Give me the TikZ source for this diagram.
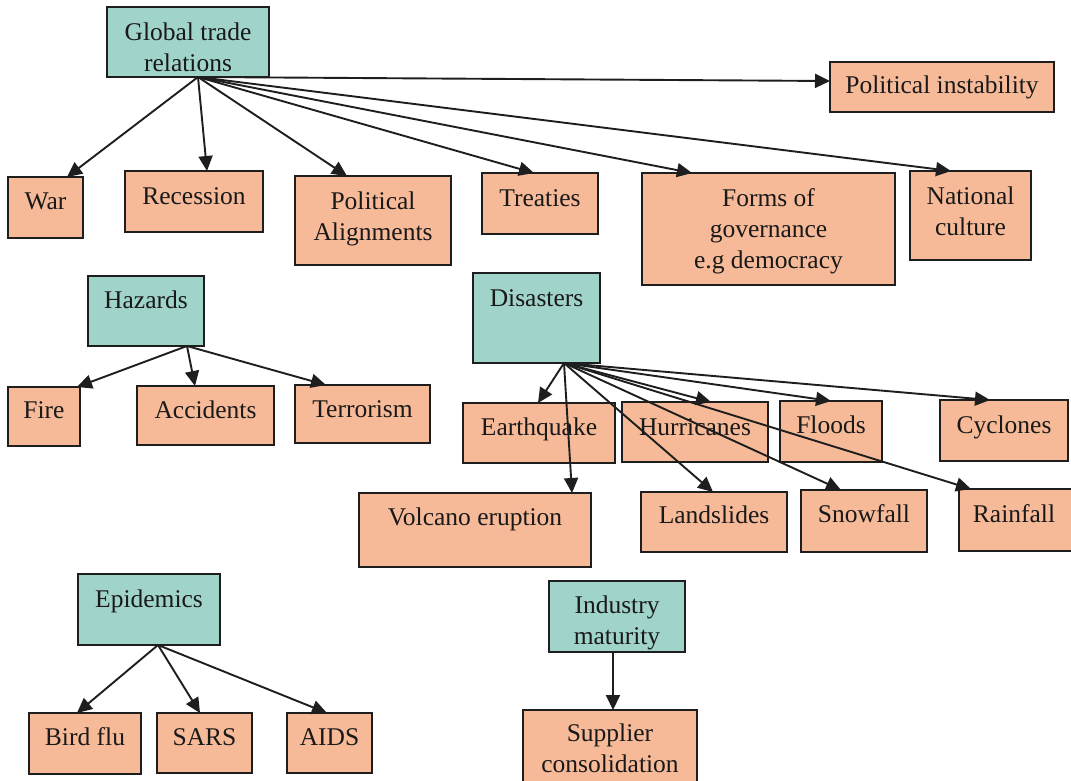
\documentclass[tikz,border=0pt]{standalone}
\usepackage{fontspec}
\setmainfont{Liberation Serif}
\usetikzlibrary{arrows.meta}

\definecolor{tealbox}{RGB}{160,212,202}
\definecolor{salmonbox}{RGB}{247,186,152}
\definecolor{inkline}{RGB}{30,30,30}

\tikzset{
  boxbase/.style={draw=inkline, line width=2pt, inner sep=0pt, outer sep=0pt, rectangle},
  headbox/.style={boxbase, fill=tealbox},
  itembox/.style={boxbase, fill=salmonbox},
  lbl/.style={inner sep=0pt, outer sep=0pt, align=center, anchor=base,
    font=\fontsize{25.5}{31}\selectfont, text=black!90},
  arr/.style={draw=inkline, line width=1.9pt, -{Triangle[length=15pt,width=14pt]}}
}

% \mkbox{name}{x1}{y1}{x2}{y2}{style}
\newcommand\mkbox[6]{%
  \node[#6, minimum width={#4-#2}, minimum height={#5-#3}] (#1) at ({(#2+#4)/2},{(#3+#5)/2}) {};}

\begin{document}
\begin{tikzpicture}[x=1pt, y=-1pt]
\fill[white] (0,0) rectangle (1071,780);
\clip (0,0) rectangle (1071,780);

% ---- Global trade relations ----
\mkbox{gtr}{107}{7}{269}{77}{headbox}
\mkbox{war}{8}{177}{83}{238}{itembox}
\mkbox{rec}{125}{171}{263}{232}{itembox}
\mkbox{pal}{295}{176}{451}{265}{itembox}
\mkbox{tre}{482}{173}{598}{234}{itembox}
\mkbox{pin}{830}{62}{1054}{112}{itembox}
\mkbox{fog}{642}{173}{895}{285}{itembox}
\mkbox{nac}{910}{171}{1031}{260}{itembox}

% ---- Hazards ----
\mkbox{haz}{88}{276}{204}{346}{headbox}
\mkbox{fir}{8}{387}{80}{446}{itembox}
\mkbox{acc}{137}{386}{274}{445}{itembox}
\mkbox{ter}{295}{385}{430}{443}{itembox}

% ---- Disasters ----
\mkbox{dis}{473}{273}{600}{363}{headbox}
\mkbox{eqk}{463}{403}{615}{463}{itembox}
\mkbox{hur}{622}{402}{768}{462}{itembox}
\mkbox{flo}{780}{401}{882}{462}{itembox}
\mkbox{cyc}{940}{400}{1068}{461}{itembox}
\mkbox{vol}{359}{493}{591}{567}{itembox}
\mkbox{lan}{641}{492}{787}{552}{itembox}
\mkbox{sno}{801}{490}{927}{552}{itembox}
\mkbox{rai}{959}{489}{1078}{551}{itembox}

% ---- Epidemics ----
\mkbox{epi}{78}{574}{220}{645}{headbox}
\mkbox{bfl}{29}{713}{141}{774}{itembox}
\mkbox{sar}{157}{713}{252}{773}{itembox}
\mkbox{aid}{287}{713}{372}{773}{itembox}

% ---- Industry maturity ----
\mkbox{ind}{549}{581}{685}{652}{headbox}
\mkbox{sup}{523}{710}{697}{800}{itembox}

% ---- labels (multi-line labels sit on the baseline of their last line) ----
\node[lbl] (gtr-t) at (188,71) {Global trade\\relations};
\node[lbl] (war-t) at (45.5,209) {War};
\node[lbl] (rec-t) at (194,204) {Recession};
\node[lbl] (pal-t) at (373,240) {Political\\Alignments};
\node[lbl] (tre-t) at (540,206) {Treaties};
\node[lbl] (pin-t) at (942,93) {Political instability};
\node[lbl] (fog-t) at (768.5,268) {Forms of\\governance\\e.g democracy};
\node[lbl] (nac-t) at (970.5,235) {National\\culture};

\node[lbl] (haz-t) at (146,308) {Hazards};
\node[lbl] (fir-t) at (44,418) {Fire};
\node[lbl] (acc-t) at (205.5,418) {Accidents};
\node[lbl] (ter-t) at (362.5,417) {Terrorism};

\node[lbl] (dis-t) at (536.5,306) {Disasters};
\node[lbl] (eqk-t) at (539,435) {Earthquake};
\node[lbl] (hur-t) at (695,435) {Hurricanes};
\node[lbl] (flo-t) at (831,433) {Floods};
\node[lbl] (cyc-t) at (1004,433) {Cyclones};
\node[lbl] (vol-t) at (475,525) {Volcano eruption};
\node[lbl] (lan-t) at (714,523) {Landslides};
\node[lbl] (sno-t) at (864,522) {Snowfall};
\node[lbl] (rai-t) at (1014,522) {Rainfall};

\node[lbl] (epi-t) at (149,607) {Epidemics};
\node[lbl] (bfl-t) at (85,745) {Bird flu};
\node[lbl] (sar-t) at (204.5,745) {SARS};
\node[lbl] (aid-t) at (329.5,745) {AIDS};

\node[lbl] (ind-t) at (617,644) {Industry\\maturity};
\node[lbl] (sup-t) at (610,772) {Supplier\\consolidation};

% ---- connectors ----
\coordinate (gtr-o) at ([xshift=10pt]gtr.south);
\draw[arr] (gtr-o) -- ([yshift=6pt]pin.west);
\draw[arr] (gtr-o) -- ([xshift=21.5pt]war.north);
\draw[arr] (gtr-o) -- ([xshift=13pt]rec.north);
\draw[arr] (gtr-o) -- ([xshift=-26pt]pal.north);
\draw[arr] (gtr-o) -- ([xshift=-6pt]tre.north);
\draw[arr] (gtr-o) -- ([xshift=-76.5pt]fog.north);
\draw[arr] (gtr-o) -- ([xshift=-19.5pt]nac.north);

\coordinate (haz-o) at ([xshift=41pt]haz.south);
\draw[arr] (haz-o) -- ([xshift=33pt]fir.north);
\draw[arr] (haz-o) -- ([xshift=-10.5pt]acc.north);
\draw[arr] (haz-o) -- ([xshift=-36.5pt]ter.north);

\coordinate (dis-o) at ([xshift=27.5pt]dis.south);
\draw[arr] (dis-o) -- ([xshift=-1pt]eqk.north);
\draw[arr] (dis-o) -- ([xshift=97pt]vol.north);
\draw[arr] (dis-o) -- ([xshift=16pt]hur.north);
\draw[arr] (dis-o) -- ([xshift=-1pt]lan.north);
\draw[arr] (dis-o) -- (flo.north);
\draw[arr] (dis-o) -- ([xshift=-23pt]sno.north);
\draw[arr] (dis-o) -- ([xshift=-14pt]cyc.north);
\draw[arr] (dis-o) -- ([xshift=-47.5pt]rai.north);

\coordinate (epi-o) at ([xshift=9pt]epi.south);
\draw[arr] (epi-o) -- ([xshift=-8pt]bfl.north);
\draw[arr] (epi-o) -- ([xshift=-4.5pt]sar.north);
\draw[arr] (epi-o) -- ([xshift=-2.5pt]aid.north);

\draw[arr] ([xshift=-4pt]ind.south) -- ([xshift=3pt]sup.north);
\end{tikzpicture}
\end{document}
